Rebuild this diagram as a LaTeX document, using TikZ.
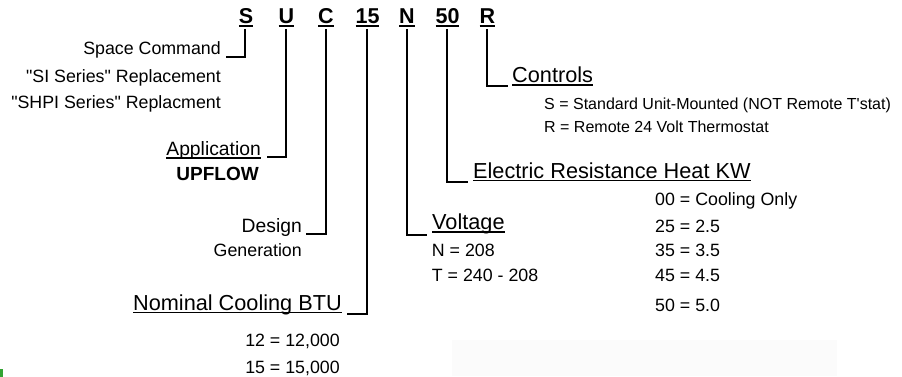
\documentclass[tikz,border=0pt]{standalone}
\usepackage{fontspec}
\setmainfont{Liberation Sans}[Ligatures=TeXOff]
\newsavebox\ulbox
\newcommand\myul[1]{\sbox\ulbox{#1}\rlap{\rule[-3.2pt]{\wd\ulbox}{1.5pt}}\usebox\ulbox}
\newcommand\myulb[1]{\sbox\ulbox{#1}\rlap{\rule[-4pt]{\wd\ulbox}{2.3pt}}\usebox\ulbox}
\tikzset{
  code/.style={inner sep=0pt, anchor=base, font=\fontsize{21.5}{24}\selectfont\bfseries},
  head/.style={inner sep=0pt, font=\fontsize{21.7}{24}\selectfont},
  mid/.style={inner sep=0pt, font=\fontsize{19.3}{22}\selectfont},
  midb/.style={inner sep=0pt, font=\fontsize{19}{22}\selectfont\bfseries},
  small/.style={inner sep=0pt, font=\fontsize{17.8}{20}\selectfont},
  smaller/.style={inner sep=0pt, font=\fontsize{16}{18}\selectfont},
  conn/.style={line width=2pt, line join=miter},
}
\begin{document}
\begin{tikzpicture}[x=1pt,y=-1pt]
\useasboundingbox (0,0) rectangle (902,377);
% faint background panel and green speck
\fill[black!1.5] (452,340) rectangle (837,376);
\fill[green!55!black!80] (0,369) rectangle (3,377);
% code letters
\node[code] (S)  at (246,23.3) {\myulb{S}};
\node[code] (U)  at (286.5,23.3) {\myulb{U}};
\node[code] (C)  at (326,23.3) {\myulb{C}};
\node[code] (n15) at (367.5,23.3) {\myulb{15}};
\node[code] (N)  at (407,23.3) {\myulb{N}};
\node[code] (n50) at (447.5,23.3) {\myulb{50}};
\node[code] (R)  at (487.5,23.3) {\myulb{R}};
% line tops
\coordinate (tS) at (244.5,29);
\coordinate (tU) at (285.7,29);
\coordinate (tC) at (326,29);
\coordinate (t15) at (366.5,29);
\coordinate (tN) at (406.7,29);
\coordinate (t50) at (446.7,29);
\coordinate (tR) at (487.3,29);
% line ends
\coordinate (eS) at (225.5,57.5);
\coordinate (eU) at (266.7,157.3);
\coordinate (eC) at (306,234.3);
\coordinate (e15) at (346.7,314);
\coordinate (eN) at (427,234.5);
\coordinate (e50) at (468,181.5);
\coordinate (eR) at (508,86);
\draw[conn] (tS) |- (eS);
\draw[conn] (tU) |- (eU);
\draw[conn] (tC) |- (eC);
\draw[conn] (t15) |- (e15);
\draw[conn] (tN) |- (eN);
\draw[conn] (t50) |- (e50);
\draw[conn] (tR) |- (eR);
% Space Command
\node[small, anchor=base east] (sc) at (221,55) {Space Command};
\node[small, anchor=base east] (si) at (221,83) {"SI Series" Replacement};
\node[small, anchor=base east] (shpi) at (221,109) {"SHPI Series" Replacment};
% Application
\node[mid, anchor=base east] (app) at (261,155.7) {\myul{Application}};
\node[midb, anchor=base east] (upf) at (259,180) {UPFLOW};
% Design
\node[mid, anchor=base east] (des) at (302,232) {Design};
\node[small, anchor=base east] (gen) at (302,256) {Generation};
% Nominal cooling
\node[head, anchor=base east] (nom) at (342,310) {\myul{Nominal Cooling BTU}};
\node[small, anchor=base east] (c12) at (340,346) {12 = 12,000};
\node[small, anchor=base east] (c15) at (340,373) {15 = 15,000};
% Voltage
\node[head, anchor=base west] (volt) at (432,229.5) {\myul{Voltage}};
\node[small, anchor=base west] (vN) at (431.7,256.5) {N = 208};
\node[small, anchor=base west] (vT) at (431.7,281.5) {T = 240 - 208};
% Electric heat
\node[head, anchor=base west] (elec) at (473,178) {\myul{Electric Resistance Heat KW}};
\node[small, anchor=base west] (h00) at (655,205) {00 = Cooling Only};
\node[small, anchor=base west] (h25) at (655,232.7) {25 = 2.5};
\node[small, anchor=base west] (h35) at (655,256.5) {35 = 3.5};
\node[small, anchor=base west] (h45) at (655,281.5) {45 = 4.5};
\node[small, anchor=base west] (h50) at (655,311.5) {50 = 5.0};
% Controls
\node[head, anchor=base west] (ctl) at (512,82.5) {\myul{Controls}};
\node[smaller, anchor=base west] (cS) at (544,110) {S = Standard Unit-Mounted (NOT Remote T'stat)};
\node[smaller, anchor=base west] (cR) at (544,132.5) {R = Remote 24 Volt Thermostat};
\end{tikzpicture}
\end{document}
